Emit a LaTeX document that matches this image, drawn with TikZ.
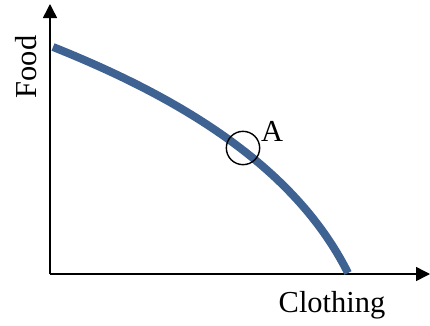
\documentclass[tikz,border=0pt]{standalone}
\usepackage{fontspec}
\setmainfont{Liberation Serif}
\usetikzlibrary{arrows.meta,positioning}
\definecolor{ppfblue}{RGB}{62,98,146}

\begin{document}
\begin{tikzpicture}[x=0.03cm,y=0.03cm]
\tikzset{
  axisline/.style={-{Triangle[length=4.2mm,width=4.2mm]},line width=1.3pt},
  frontier/.style={line width=6.8pt,color=ppfblue},
  pointmark/.style={circle,draw,line width=1.2pt,minimum size=1.0cm,inner sep=0pt},
  axislabel/.style={font=\fontsize{26}{30}\selectfont,inner sep=0pt}
}
\useasboundingbox (0,0) rectangle (430,325);
\coordinate (c_O) at (50,51);
\coordinate (c_Ytop) at (50,321);
\coordinate (c_Xend) at (430,51);
\coordinate (c_S) at (53,278);
\coordinate (c_E) at (348,52);
\draw[axisline] (c_O) -- (c_Ytop);
\draw[axisline] (c_O) -- (c_Xend);
\draw[frontier] (c_S) .. controls (173,230) and (293,162) .. (c_E);
\node[pointmark] (n_A) at (243,177) {};
\node[axislabel] (l_A) at (272,194) {A};
\node[axislabel,rotate=90] (l_food) at (26,258) {Food};
\node[axislabel] (l_cloth) at (332,20) {Clothing};
\end{tikzpicture}
\end{document}
